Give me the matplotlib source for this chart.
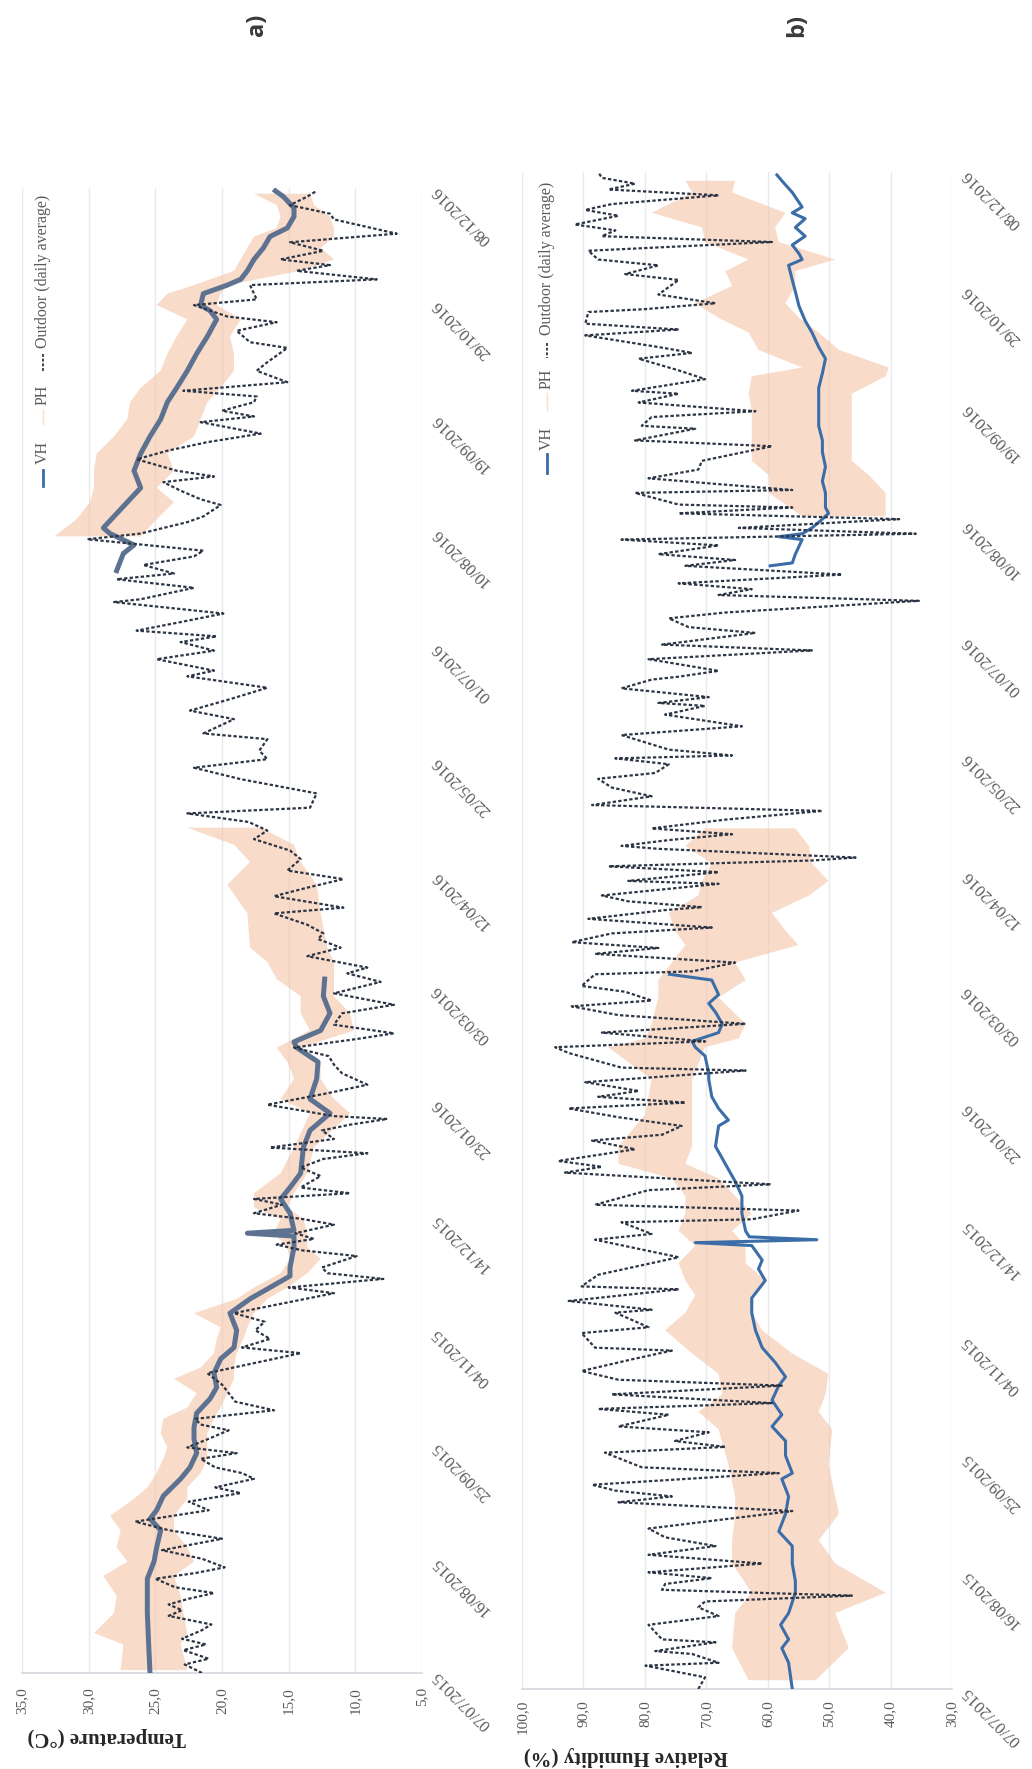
import numpy as np
import pandas as pd
import matplotlib
matplotlib.use("Agg")
import matplotlib.pyplot as plt
from matplotlib.lines import Line2D

# ---------------- data ----------------
start_date = "2015-07-07"
tick_days = list(range(0, 521, 40))          # date tick every 40 days
temp_ticks = [5, 10, 15, 20, 25, 30, 35]
rh_ticks = [30, 40, 50, 60, 70, 80, 90, 100]
nan = float("nan")

# (day since start, value)
out_a = [(0,21.5),(3,22.8),(5,21.0),(8,22.9),(10,21.2),(12,23.0),(15,21.5),(17,20.8),(20,24.0),(22,23.0),
         (24,24.0),(26,22.5),(28,20.6),(30,23.5),(33,25.0),(35,22.0),(37,19.8),(40,21.5),(43,24.5),(47,20.0),
         (50,24.0),(53,26.5),(57,21.0),(60,22.5),(63,18.6),(65,20.5),(68,17.6),(70,18.5),(72,20.5),(75,21.6),
         (77,18.9),(79,22.6),(82,21.0),(85,19.5),(87,21.6),(89,22.0),(92,16.1),(95,19.0),(98,19.5),(101,20.0),
         (105,21.1),(109,17.1),(112,14.1),(114,18.5),(117,16.4),(120,17.5),(123,16.8),(126,19.1),(129,15.9),
         (133,11.6),(135,15.0),(138,7.9),(140,12.1),(142,12.5),(146,9.9),(148,14.0),(150,15.9),(152,13.1),
         (154,14.5),(157,11.6),(159,14.0),(161,17.6),(164,15.5),(166,17.6),(168,10.4),(170,14.1),(174,12.6),
         (177,14.1),(180,12.4),(182,9.1),(184,16.4),(187,11.6),(190,12.5),(192,10.4),(194,7.6),(195,11.6),
         (199,16.6),(203,12.1),(206,9.1),(210,11.0),(213,11.6),(216,12.0),(219,14.6),(222,9.9),(224,7.1),
         (227,11.6),(231,11.0),(234,7.1),(238,11.6),(242,8.1),(245,10.6),(247,9.1),(251,13.6),(254,11.1),
         (257,12.8),(259,12.4),(262,13.6),(266,16.1),(268,10.9),(272,16.1),(275,13.6),(278,10.9),(281,15.1),
         (285,14.1),(288,14.9),(292,17.6),(295,16.6),(298,18.0),(301,22.6),(303,13.4),(308,12.9),(313,18.6),
         (317,22.1),(320,16.6),(323,17.2),(327,16.6),(329,21.4),(334,19.1),(337,22.4),(341,19.4),(345,16.6),
         (349,22.6),(351,20.6),(355,24.9),(358,20.6),(361,23.1),(363,20.4),(365,26.4),(368,23.1),(371,19.9),
         (375,28.1),(376,26.1),(380,22.1),(383,27.9),(385,23.6),(388,25.9),(391,22.1),(393,21.4),(397,30.1),
         (399,26.1),(403,22.6),(405,21.4),(409,20.1),(411,21.6),(414,23.1),(417,24.4),(419,20.6),(421,23.4),
         (425,26.4),(428,24.1),(431,21.1),(434,17.1),(438,21.6),(440,17.6),(442,20.0),(445,17.6),(447,17.4),
         (449,22.9),(452,15.1),(456,17.4),(459,16.6),(464,15.1),(466,17.9),(470,18.9),(473,15.9),(475,19.6),
         (479,22.1),(481,17.4),(486,17.9),(488,8.4),(491,14.4),(493,11.9),(495,15.6),(498,12.4),(501,14.9),
         (504,6.9),(509,11.6),(511,11.9),(514,14.9),(517,13.6),(519,12.9)]

vh_a = [(0,25.4),(10,25.5),(21,25.6),(33,25.6),(39,25.1),(44,24.9),(50,24.6),(54,25.4),(57,24.9),(62,24.4),
        (68,23.1),(72,22.4),(77,21.9),(82,22.1),(86,22.1),(91,21.9),(96,20.9),(100,20.4),(105,20.6),(110,20.1),
        (114,19.1),(120,18.9),(126,19.4),(131,17.9),(135,16.4),(139,14.9),(142,14.9),(149,14.6),(153,14.6),
        (154,18.1),(155,14.6),(161,14.9),(166,15.6),(170,14.9),(175,14.1),(184,13.9),(190,13.4),(196,11.9),
        (201,13.4),(208,12.9),(214,12.8),(219,14.4),(221,14.6),(225,12.6),(231,11.9),(237,12.4),(243,12.3),
        (300,nan),
        (386,27.9),(392,27.4),(395,26.6),(399,28.4),(401,28.9),(410,27.1),(415,26.1),(421,26.6),(427,26.1),
        (433,25.4),(439,24.6),(445,24.1),(450,23.4),(456,22.6),(462,21.9),(468,21.1),(474,20.4),(477,20.9),
        (479,21.6),(483,21.4),(486,19.6),(488,18.6),(491,18.1),(495,17.6),(499,16.9),(503,16.4),(506,15.1),
        (510,14.6),(513,14.6),(517,15.4),(519,16.0)]

# (day, low, high) envelope of the hourly PH record
ph_a = [(1,22.6,27.6),(10,23.1,27.4),(14,22.6,29.6),(21,22.9,28.1),(27,23.1,27.9),(34,23.6,28.9),(39,22.1,27.1),
        (44,22.6,27.9),(50,23.6,27.6),(55,23.6,28.4),(61,22.6,26.6),(65,22.6,25.6),(70,21.6,24.9),(75,21.1,24.4),
        (79,21.1,24.1),(84,21.1,24.6),(89,20.6,24.4),(93,20.1,22.6),(98,19.6,21.9),(103,19.1,23.6),(107,19.1,21.6),
        (112,18.9,20.6),(117,18.4,20.4),(121,18.1,20.1),(126,17.6,22.1),(131,16.6,18.9),(135,15.1,17.6),
        (140,13.6,15.6),(145,12.6,14.9),(149,13.6,15.1),(154,13.6,16.1),(159,13.9,15.6),(163,15.1,17.6),
        (168,14.6,17.6),(175,13.6,15.6),(184,13.1,14.6),(196,10.4,13.4),(201,11.6,15.6),(208,12.6,14.6),
        (214,12.6,15.1),(219,14.1,15.9),(225,10.1,13.4),(231,10.4,14.1),(237,11.6,14.1),(243,11.6,15.9),
        (249,11.6,16.6),(254,12.1,17.9),(266,12.6,18.1),(276,12.9,19.6),(284,14.1,17.9),(290,14.6,19.1),
        (296,17.1,22.6),(297,nan,nan),(397,nan,nan),
        (398,26.1,32.6),(404,24.9,30.9),(410,23.6,29.9),(415,24.9,29.6),(421,23.6,29.6),(427,24.1,29.4),
        (433,22.1,28.1),(439,21.6,27.1),(445,21.1,26.9),(450,20.1,26.1),(456,19.1,24.6),(462,19.1,24.1),
        (468,19.4,23.4),(474,18.6,22.6),(479,20.4,24.9),(483,20.1,24.1),(486,19.6,22.1),(491,14.1,19.1),
        (495,11.6,18.6),(499,12.6,18.1),(503,11.6,17.6),(506,11.6,15.9),(510,11.9,15.6),(514,13.1,15.9),
        (518,13.4,17.6)]

out_b = [(0,71.3),(4,70.2),(8,79.9),(9,68.0),(12,72.3),(13,78.3),(16,68.5),(17,77.2),(22,79.4),(25,68.0),
         (28,71.3),(30,70.2),(32,46.3),(34,77.2),(36,76.7),(38,69.1),(40,79.4),(43,60.9),(46,79.4),(49,68.5),
         (52,76.7),(55,79.4),(61,56.0),(64,84.3),(66,75.6),(68,84.8),(70,88.6),(74,58.2),(76,80.5),(81,86.5),
         (83,66.9),(85,75.1),(88,69.6),(90,84.3),(94,76.1),(96,87.6),(98,59.3),(101,85.4),(104,57.7),(106,84.3),
         (109,90.3),(113,82.1),(116,75.6),(117,88.1),(122,90.3),(124,79.4),(129,84.8),(130,78.9),(133,92.4),
         (137,74.5),(138,90.3),(142,87.6),(148,74.5),(154,88.1),(156,78.9),(160,83.8),(161,62.6),(164,55.0),
         (166,88.1),(171,79.4),(173,59.5),(177,93.0),(179,87.0),(181,94.1),(185,81.6),(188,88.6),(190,77.2),
         (193,74.0),(196,84.3),(199,92.4),(201,73.4),(203,87.6),(205,81.0),(208,89.7),(212,63.6),(213,83.8),
         (218,92.4),(220,94.6),(222,70.2),(225,87.0),(228,63.6),(231,84.3),(234,91.9),(236,78.9),(239,83.2),
         (241,90.3),(245,88.1),(246,72.3),(249,65.3),(252,88.1),(254,77.8),(256,91.9),(259,85.4),(261,69.1),
         (264,89.2),(267,76.7),(268,70.7),(270,82.7),(272,87.0),(276,68.0),(277,82.7),(280,68.0),(282,85.9),
         (284,52.8),(285,45.7),(288,77.8),(289,83.8),(291,76.1),(293,65.8),(295,78.9),(298,66.9),(301,51.1),
         (303,88.6),(306,78.9),(309,85.4),(312,87.6),(314,78.3),(317,76.1),(319,84.8),(320,65.8),(322,76.1),
         (327,83.8),(330,64.2),(334,76.7),(337,70.2),(338,77.8),(340,69.6),(343,83.8),(346,78.9),(347,74.5),
         (349,68.0),(353,79.4),(356,52.8),(358,77.2),(362,62.0),(364,72.9),(367,76.1),(369,66.9),(373,35.4),
         (375,68.0),(377,62.6),(379,74.5),(382,47.9),(385,73.4),(387,65.3),(389,77.8),(392,68.0),(394,83.8),
         (396,35.9),(398,64.7),(401,38.6),(403,74.5),(405,56.0),(406,74.5),(410,81.6),(411,56.0),(413,68.0),
         (415,79.4),(418,71.3),(421,70.7),(426,59.3),(428,81.6),(432,71.8),(433,80.5),(436,78.9),(438,62.0),
         (441,81.0),(444,74.5),(445,82.1),(449,70.2),(452,74.5),(456,81.0),(458,72.3),(460,77.8),(464,89.7),
         (466,74.5),(468,89.7),(472,89.2),(473,79.9),(475,68.5),(478,77.8),(483,74.5),(485,83.2),(488,77.8),
         (490,87.6),(493,89.2),(496,59.3),(498,87.0),(500,84.8),(502,91.4),(505,84.3),(507,89.7),(509,85.4),
         (512,68.0),(514,85.9),(516,81.6),(518,87.0),(520,87.6)]

vh_b = [(0,56.0),(9,56.6),(14,57.7),(17,56.6),(22,57.9),(26,56.6),(33,55.5),(37,55.5),(43,56.0),(49,56.0),
        (54,58.2),(60,57.1),(66,56.6),(72,57.7),(74,56.0),(80,57.1),(85,57.1),(90,59.3),(94,57.7),(99,59.3),
        (104,58.2),(107,57.1),(112,58.8),(117,60.9),(123,62.0),(129,62.6),(134,62.6),(140,60.4),(144,61.5),
        (147,60.9),(152,62.6),(153,71.8),(154,52.0),(155,63.0),(157,63.6),(163,64.2),(169,64.2),(174,65.3),
        (180,66.9),(186,68.5),(193,68.0),(195,66.4),(199,68.0),(203,69.1),(209,69.6),(211,69.6),(217,70.2),
        (220,71.8),(222,72.3),(225,68.0),(228,67.4),(232,68.5),(235,69.6),(238,68.0),(243,69.1),(245,76.0),
        (300,nan),
        (385,59.6),(386,56.0),(389,55.5),(394,54.4),(395,58.2),(396,54.4),(398,52.8),(401,51.1),(403,50.1),
        (405,50.6),(410,50.6),(414,51.1),(419,50.6),(424,51.1),(428,51.1),(433,51.7),(437,51.7),(442,51.7),
        (446,51.7),(451,51.1),(456,50.6),(460,51.7),(465,52.8),(469,53.9),(474,54.9),(479,55.5),(483,56.0),
        (488,56.6),(490,54.4),(492,54.9),(495,56.0),(498,53.9),(501,55.5),(504,53.9),(506,56.0),(508,54.4),
        (513,56.0),(517,57.7),(519,58.5)]

ph_b = [(3,52.2,63.1),(14,46.8,65.8),(26,49.0,65.3),(33,40.8,62.6),(43,49.0,65.8),(51,51.7,65.8),(60,48.4,65.3),
        (66,49.0,65.3),(77,50.1,66.4),(89,49.5,68.0),(95,51.7,71.3),(101,50.6,67.4),(108,50.1,68.0),
        (115,56.0,72.3),(123,60.9,76.7),(129,62.6,73.4),(135,62.6,71.8),(140,60.4,73.4),(146,63.6,74.5),
        (152,63.6,71.8),(157,65.8,74.5),(163,62.6,73.4),(169,65.3,73.4),(175,68.0,75.6),(180,73.4,84.3),
        (186,72.3,84.3),(197,72.3,79.9),(209,72.3,78.9),(220,70.2,86.0),(223,64.7,79.9),(228,63.6,78.9),
        (237,68.0,77.8),(243,63.6,77.8),(249,65.3,75.6),(255,55.0,73.4),(260,57.1,75.1),(266,59.3,76.1),
        (272,53.3,71.3),(277,50.1,70.7),(283,52.8,69.1),(289,53.3,73.4),(295,55.5,70.2),(297,nan,nan),
        (401,nan,nan),
        (402,40.8,54.4),(410,40.8,59.8),(416,43.5,59.8),(421,46.3,62.6),(427,46.3,62.6),(433,46.3,62.6),
        (438,46.3,62.6),(444,46.3,63.1),(450,40.8,62.6),(453,40.3,54.4),(459,48.4,61.5),(465,51.7,63.1),
        (470,54.9,68.0),(475,57.1,71.8),(481,55.5,65.8),(486,55.5,66.9),(490,49.0,63.1),(496,58.2,70.2),
        (501,58.8,70.7),(506,57.1,78.9),(513,65.8,72.3),(517,65.3,73.4)]

# ---------------- helpers ----------------
start = pd.Timestamp(start_date)


def to_dates(days):
    return start + pd.to_timedelta(np.asarray(days, dtype=float), unit="D")


def split2(series):
    d, v = zip(*series)
    return to_dates(d), np.asarray(v, dtype=float)


def split3(series):
    d, lo, hi = zip(*series)
    return to_dates(d), np.asarray(lo, dtype=float), np.asarray(hi, dtype=float)


SERIF = ["Liberation Serif", "DejaVu Serif"]
GREY = "#5a5a5a"
C_OUT = "#2c3544"
C_PH = "#f5bf9f"
W, H = 1032, 1769

fig = plt.figure(figsize=(W / 100, H / 100), dpi=100)
fig.patch.set_facecolor("white")


def box(x0, x1, ytop, ybot):
    return [x0 / W, 1 - ybot / H, (x1 - x0) / W, (ybot - ytop) / H]


def panel(rect, outd, vh, ph, ticks, lim, vh_color, vh_lw, xpad):
    ax = fig.add_axes(rect)
    pd_, plo, phi = split3(ph)
    ax.fill_betweenx(pd_, plo, phi, color=C_PH, alpha=0.55, lw=0, zorder=2)
    vd, vv = split2(vh)
    ax.plot(vv, vd, color=vh_color, lw=vh_lw, solid_joinstyle="round", zorder=3)
    od, ov = split2(outd)
    ax.plot(ov, od, color=C_OUT, lw=1.6, dashes=(1.5, 1.0), zorder=4)
    ax.set_xlim(*lim)
    ax.set_ylim(to_dates([0])[0], to_dates([520])[0])
    ax.set_xticks(ticks)
    ax.set_xticklabels([f"{t:.1f}".replace(".", ",") for t in ticks])
    ax.tick_params(axis="x", length=0, pad=xpad, labelrotation=90,
                   labelsize=11, labelcolor=GREY)
    for lab in ax.get_xticklabels():
        lab.set_family(SERIF)
    ax.yaxis.tick_right()
    tdates = to_dates(tick_days)
    ax.set_yticks(tdates)
    ax.set_yticklabels([d.strftime("%d/%m/%Y") for d in tdates])
    ax.tick_params(axis="y", length=0, pad=9, labelsize=12, labelcolor=GREY)
    for lab in ax.get_yticklabels():
        lab.set_rotation(135)
        lab.set_rotation_mode("anchor")
        lab.set_ha("right")
        lab.set_va("center")
        lab.set_family(SERIF)
    ax.grid(axis="x", color="#e6eaef", lw=1.0, zorder=0)
    ax.grid(axis="y", visible=False)
    for s in ("top", "left", "right"):
        ax.spines[s].set_visible(False)
    ax.spines["bottom"].set_color("#d3d7dc")
    ax.spines["bottom"].set_linewidth(1.2)
    ax.set_facecolor("white")
    return ax


axA = panel(box(22, 422, 188, 1673), out_a, vh_a, ph_a, temp_ticks, (35, 5),
            "#5d7290", 3.6, 10)
axB = panel(box(522, 952, 172, 1689), out_b, vh_b, ph_b, rh_ticks, (100, 30),
            "#3b6ea8", 2.2, 8)

# axis titles (page is turned, so they read upside down)
fig.text(107 / W, 1 - 1737 / H, "Temperature (°C)", rotation=180, ha="center", va="center",
         fontsize=15, fontweight="bold", family=SERIF, color="#262626")
fig.text(626 / W, 1 - 1756 / H, "Relative Humidity (%)", rotation=180, ha="center", va="center",
         fontsize=15, fontweight="bold", family=SERIF, color="#262626")

# panel letters
for x, s in ((257, "a)"), (797, "b)")):
    fig.text(x / W, 1 - 25 / H, s, rotation=90, ha="center", va="center",
             fontsize=17, fontweight="bold", family=["Open Sans", "DejaVu Sans"], color="#3a3a3a")


# legends (vertical)
def legend(x, out_rng, dash_rng, ph_c, ph_line, vh_c, vh_line, vh_color):
    xf = x / W
    fig.text(xf, 1 - (out_rng[0] + out_rng[1]) / 2 / H, "Outdoor (daily average)", rotation=90,
             ha="center", va="center", fontsize=11.5, family=SERIF, color=GREY)
    fig.add_artist(Line2D([xf, xf], [1 - dash_rng[0] / H, 1 - dash_rng[1] / H],
                          transform=fig.transFigure, color=C_OUT, lw=1.3, dashes=(1.6, 1.0)))
    fig.text(xf, 1 - ph_c / H, "PH", rotation=90, ha="center", va="center",
             fontsize=11.5, family=SERIF, color=GREY)
    fig.add_artist(Line2D([xf, xf], [1 - ph_line[0] / H, 1 - ph_line[1] / H],
                          transform=fig.transFigure, color=C_PH, lw=1.0, alpha=0.5))
    fig.text(xf, 1 - vh_c / H, "VH", rotation=90, ha="center", va="center",
             fontsize=11.5, family=SERIF, color=GREY)
    fig.add_artist(Line2D([xf, xf], [1 - vh_line[0] / H, 1 - vh_line[1] / H],
                          transform=fig.transFigure, color=vh_color, lw=2.0))


legend(43, (190, 352), (354, 371), 395, (410, 424), 452, (470, 486), "#3b6ea8")
legend(547, (175, 342), (343, 358), 379, (393, 410), 438, (454, 473), "#3b6ea8")

fig.savefig("out.png", dpi=100, facecolor="white")
